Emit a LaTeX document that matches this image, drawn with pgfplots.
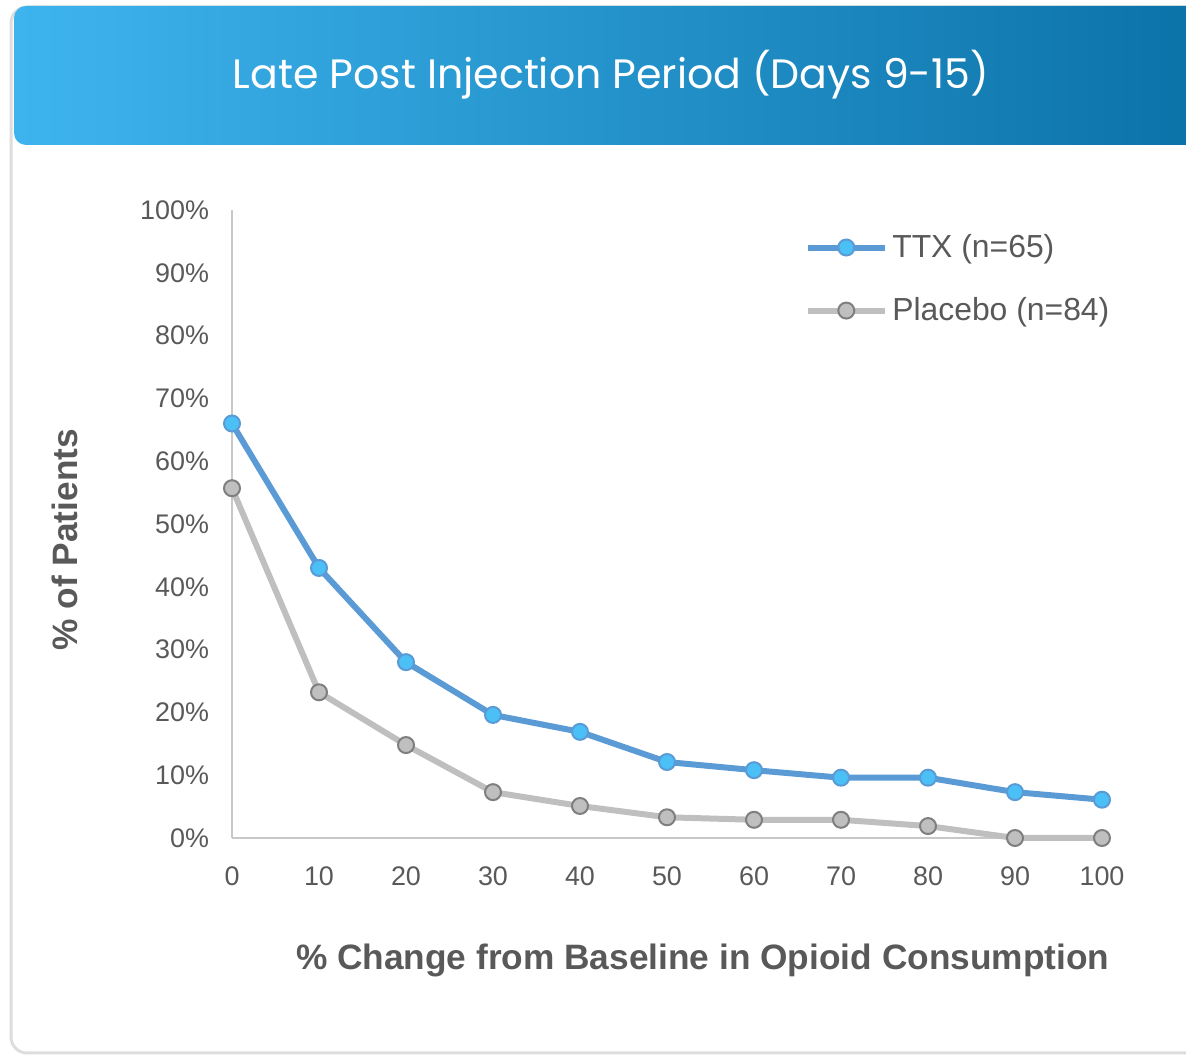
\documentclass[border=0pt]{standalone}
\usepackage{pgfplots}
\pgfplotsset{compat=1.18}
\usepackage{fontspec}
\setmainfont{Liberation Sans}
\newfontfamily\poppins{Poppins}
\definecolor{ttxline}{HTML}{5B9BD5}
\definecolor{ttxfill}{HTML}{4BC0F7}
\definecolor{plline}{HTML}{BFBFBF}
\definecolor{pldraw}{HTML}{7F7F7F}
\definecolor{txt}{HTML}{595959}
\definecolor{axisgray}{HTML}{C8C8C8}
\definecolor{bannerL}{HTML}{3EB4EE}
\definecolor{bannerR}{HTML}{0A70A6}
\definecolor{cardborder}{HTML}{DDDDDD}
\begin{document}
\begin{tikzpicture}
\useasboundingbox (0,0) rectangle (593bp,529bp);
\begin{scope}
\clip (0,0) rectangle (593bp,529bp);
\draw[cardborder, line width=1.5bp, rounded corners=8bp] (5.5bp,2.5bp) rectangle (620bp,525.5bp);
\shade[left color=bannerL, right color=bannerR, rounded corners=6bp] (7bp,456.5bp) rectangle (620bp,526bp);
\end{scope}
\node[text=white, font=\poppins\fontsize{20.6}{25}\selectfont] at (305.5bp,491.5bp) {Late Post Injection Period (Days 9-15)};
\begin{axis}[
  at={(116bp,110bp)}, anchor=origin,
  scale only axis, width=435bp, height=314bp,
  xmin=0, xmax=100, ymin=0, ymax=100,
  clip=false,
  axis lines=left,
  axis line style={axisgray, line width=0.8bp, -},
  xtick={0,10,...,100}, ytick={0,10,...,100},
  major tick length=0pt,
  yticklabel={\pgfmathprintnumber{\tick}\%},
  /pgf/number format/assume math mode=true,
  tick label style={text=txt, font=\fontsize{13.5}{16}\selectfont},
  yticklabel style={xshift=-8bp},
  xticklabel style={yshift=-11bp},
  xlabel={\% Change from Baseline in Opioid Consumption},
  ylabel={\% of Patients},
  label style={text=txt, font=\bfseries\fontsize{17.7}{21}\selectfont},
  xlabel style={at={(axis description cs:0.541,0)}, anchor=center, yshift=-61bp},
  ylabel style={at={(axis description cs:0,0.475)}, anchor=center, yshift=83.5bp},
  legend style={at={(axis description cs:0.6585,0.968)}, anchor=north west, draw=none, fill=none,
    font=\fontsize{16}{19}\selectfont, text=txt, row sep=14.5bp, inner sep=0pt},
  legend cell align=left,
  legend image code/.code={\draw[mark repeat=2,mark phase=2,#1] plot coordinates {(0bp,0bp)(19bp,0bp)(38.5bp,0bp)};},
]
\addplot[ttxline, line width=3bp, mark=*, mark size=4bp, mark options={fill=ttxfill, draw=ttxline, line width=1bp}]
coordinates {(0,66) (10,43) (20,28) (30,19.6) (40,16.9) (50,12.1) (60,10.8) (70,9.6) (80,9.6) (90,7.3) (100,6.1)};
\addlegendentry{TTX (n=65)}
\addplot[plline, line width=3bp, mark=*, mark size=4bp, mark options={fill=plline, draw=pldraw, line width=1bp}]
coordinates {(0,55.7) (10,23.2) (20,14.8) (30,7.3) (40,5.1) (50,3.3) (60,2.9) (70,2.9) (80,1.9) (90,0) (100,0)};
\addlegendentry{Placebo (n=84)}
\end{axis}
\end{tikzpicture}
\end{document}
